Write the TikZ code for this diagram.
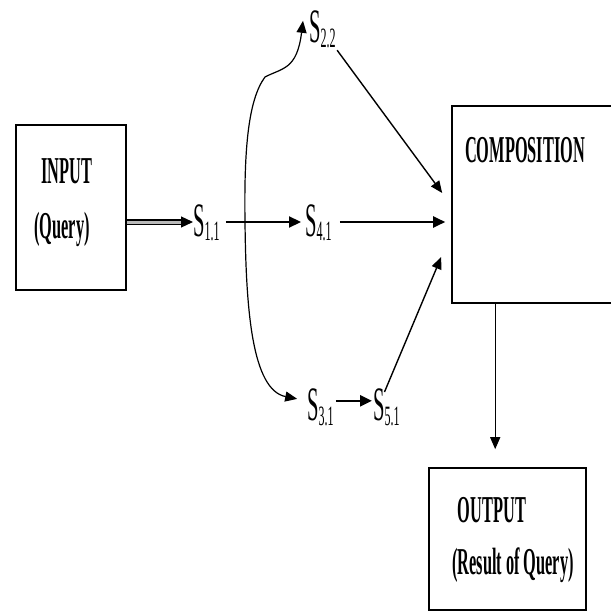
\documentclass[tikz,border=0pt]{standalone}
\usepackage{fontspec}
\newfontfamily\cnd{Liberation Serif}[FakeStretch=0.43]
\newfontfamily\cndb{Liberation Serif Bold}[FakeStretch=0.43]
\usetikzlibrary{arrows.meta}
\newcommand\mysl[1]{{\fontsize{48}{48}\selectfont S}\raisebox{-5pt}{\fontsize{28}{28}\selectfont #1}}
\tikzset{
  boxed/.style={draw, line width=1.6pt, inner sep=0pt, minimum width=#1},
  btxt/.style={inner sep=0pt, anchor=base, font=\cndb\fontsize{38}{38}\selectfont},
  slbl/.style={inner sep=0pt, anchor=base west, font=\cnd},
  arr/.style={-{Triangle[length=12pt,width=11pt]}, line width=2.2pt},
  thinarr/.style={-{Triangle[length=12pt,width=10pt]}, line width=1.4pt},
  curv/.style={-{Triangle[length=12pt,width=10pt]}, line width=1.2pt}
}
\begin{document}
\begin{tikzpicture}[x=1pt,y=-1pt]
\useasboundingbox (0,0) rectangle (610,612);
% boxes
\node[boxed=110pt, minimum height=165pt] (inbox) at (71,207.5) {};
\node[boxed=160pt, minimum height=197pt] (comp) at (532,204.5) {};
\node[boxed=157pt, minimum height=142pt] (out) at (507.5,539) {};
% box texts
\node[btxt] (tin) at (67,184) {INPUT};
\node[btxt] (tq) at (62,238) {(Query)};
\node[btxt] (tc) at (525,163) {COMPOSITION};
\node[btxt] (to) at (492,522) {OUTPUT};
\node[btxt] (tr) at (513,574) {(Result of Query)};
% service labels
\node[slbl] (S11) at (193,236) {\mysl{1.1}};
\node[slbl] (S41) at (305,236) {\mysl{4.1}};
\node[slbl] (S22) at (309,43) {\mysl{2.2}};
\node[slbl] (S31) at (307,420) {\mysl{3.1}};
\node[slbl] (S51) at (373,420) {\mysl{5.1}};
\coordinate (split) at (245,222);
% connectors
\draw[-{Triangle[length=12pt,width=11pt]}, line width=1.2pt, double=gray!55, double distance=3pt]
  (inbox.east |- split) -- (S11.west |- split);
\draw[arr, shorten <=6pt, shorten >=4pt] (S11.east |- split) -- (S41.west |- split);
\draw[arr, shorten <=8pt, shorten >=6pt] (S41.east |- split) -- (comp.west |- split);
\draw[thinarr, shorten <=2pt] (S22.south east) -- ([xshift=-9pt,yshift=11.5pt]comp.west);
\draw[thinarr] ([xshift=-2pt,yshift=-4pt]S51.north) -- ([xshift=-10pt,yshift=-52.5pt]comp.west);
\draw[arr, shorten <=2pt, shorten >=1pt] ([yshift=6pt]S31.east) -- ([yshift=6pt]S51.west);
\draw[curv] (split) .. controls (244,150) and (248,100) .. (265,77)
  .. controls (282,68) and (297,70) .. ([xshift=-6pt,yshift=9pt]S22.west);
\draw[curv, shorten >=10pt] (split) .. controls (246,310) and (252,390) .. ([yshift=6pt]S31.west);
\draw[line width=1.4pt, -{Triangle[length=12pt,width=10pt]}, shorten >=18pt]
  ([xshift=44pt]comp.south west) -- ([xshift=44pt]comp.south west |- out.north);
\end{tikzpicture}
\end{document}
